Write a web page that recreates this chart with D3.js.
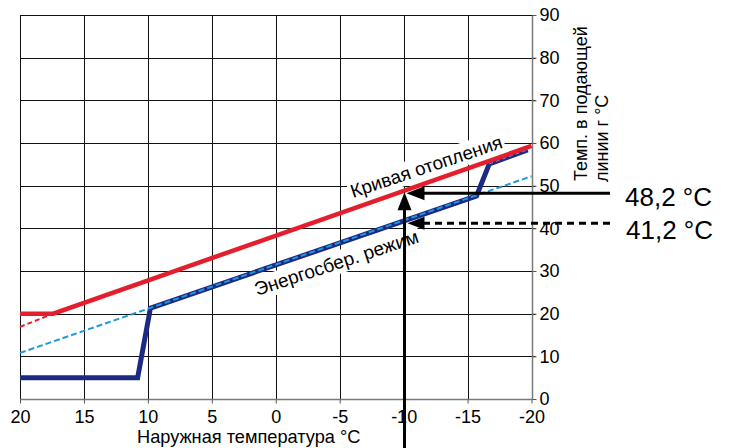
<!DOCTYPE html>
<html><head><meta charset="utf-8">
<script src="https://cdn.jsdelivr.net/npm/d3@7"></script>
<style>
body{margin:0;background:#fff;}
svg{display:block;font-family:"Liberation Sans",Arial,sans-serif;}
</style></head>
<body><svg id="c" width="729" height="448"></svg>
<script>
// ---- data ----
const xTicks = [20, 15, 10, 5, 0, -5, -10, -15, -20];
const yTicks = [0, 10, 20, 30, 40, 50, 60, 70, 80, 90];
const heatOut  = [20, 17.4, -20];
const heatFlow = [20, 20, 59.3];
const heatExtOut  = [20, 17.4];
const heatExtFlow = [16.9, 20];
const ecoOut  = [20, 10.8, 9.8, -15.7, -16.7, -19.7];
const ecoFlow = [5, 5, 21.3, 47.6, 55.1, 58.4];
const ecoRefOut  = [20, -20];
const ecoRefFlow = [10.8, 52.2];
const markOut = -10;
const markHeat = 48.2;
const markEco = 41.2;
const markHeatLabel = "48,2 °C";
const markEcoLabel = "41,2 °C";
const xTitle = "Наружная температура °C";
const yTitle = ["Темп. в подающей", "линии г °C"];
const heatLabel = "Кривая отопления";
const ecoLabel = "Энергосбер. режим";

const svg = d3.select("#c");
const x = d3.scaleLinear().domain([20, -20]).range([20, 531.5]);
const y = d3.scaleLinear().domain([0, 90]).range([399, 15]);
const cx = v => Math.round(x(v)) + 0.5;
const cy = v => Math.round(y(v)) + 0.5;

const RED = "#e31f2d", NAVY = "#1d2a84", LBLUE = "#1d98da";

// grid
const g = svg.append("g");
g.selectAll(".vg").data(xTicks.filter(d => d !== -20)).join("line")
  .attr("x1", d => cx(d)).attr("x2", d => cx(d))
  .attr("y1", cy(90)).attr("y2", cy(0))
  .attr("stroke", "#111").attr("stroke-width", 1);
g.selectAll(".hg").data(yTicks.filter(d => d !== 0)).join("line")
  .attr("x1", x(20)).attr("x2", cx(-20) + 3)
  .attr("y1", d => cy(d)).attr("y2", d => cy(d))
  .attr("stroke", "#111").attr("stroke-width", 1);

// axes (grey)
const axR = svg.append("g").attr("transform", `translate(${cx(-20)},0)`)
  .call(d3.axisRight(y).tickValues(yTicks).tickSize(4).tickPadding(4).tickFormat(d3.format("d")));
const axB = svg.append("g").attr("transform", `translate(0,${cy(0)})`)
  .call(d3.axisBottom(x).tickValues(xTicks).tickSize(4).tickPadding(3).tickFormat(d => String(d)));
[axR, axB].forEach(a => {
  a.select(".domain").attr("stroke", "#7a7a7a").attr("stroke-width", 1.5);
  a.selectAll(".tick line").attr("stroke", "#555");
  a.selectAll("text").attr("fill", "#000").style("font-size", "18px")
    .style("font-family", "'Liberation Sans',Arial,sans-serif");
});
axR.select(".domain").attr("d", `M0,${cy(0)}V${cy(90)}`);
axB.select(".domain").attr("d", `M${x(20)},0H${cx(-20)}`);
axR.selectAll("text").attr("x", 7);
axB.selectAll("text").attr("dy", "0.9em");

// titles
svg.append("text").attr("x", 137).attr("y", 443).attr("font-size", 18.2).text(xTitle);
svg.append("text").attr("transform", "translate(587,181) rotate(-90)").attr("font-size", 18).text(yTitle[0]);
svg.append("text").attr("transform", "translate(608,182) rotate(-90)").attr("font-size", 18).text(yTitle[1]);

// rotated labels with white box
function boxLabel(tx, ty, ang, txt, fs) {
  const gg = svg.append("g").attr("transform", `translate(${tx},${ty}) rotate(${ang})`);
  const r = gg.append("rect").attr("fill", "#fff");
  const t = gg.append("text").attr("font-size", fs).text(txt);
  const b = t.node().getBBox();
  r.attr("x", b.x - 2).attr("y", b.y - 1).attr("width", b.width + 4).attr("height", b.height + 2);
}
boxLabel(353, 198, -18.5, heatLabel, 18.8);
boxLabel(257, 296, -18.3, ecoLabel, 19);

// curves
const line = d3.line().x(d => x(d[0])).y(d => y(d[1]));
const zip = (a, b) => a.map((v, i) => [v, b[i]]);

svg.append("path").attr("d", line(zip(ecoOut, ecoFlow)))
  .attr("fill", "none").attr("stroke", NAVY).attr("stroke-width", 5).attr("stroke-linejoin", "miter");
svg.append("path").attr("d", line(zip(ecoOut.slice(4), ecoFlow.slice(4))))
  .attr("fill", "none").attr("stroke", "#7f8cd0").attr("stroke-width", 1).attr("stroke-dasharray", "4,3");
svg.append("path").attr("d", line(zip(ecoRefOut, ecoRefFlow)))
  .attr("fill", "none").attr("stroke", LBLUE).attr("stroke-width", 2).attr("stroke-dasharray", "6,3");
svg.append("path").attr("d", line(zip(heatExtOut, heatExtFlow)))
  .attr("fill", "none").attr("stroke", RED).attr("stroke-width", 2).attr("stroke-dasharray", "5,3");
svg.append("path").attr("d", line(zip(heatOut, heatFlow)))
  .attr("fill", "none").attr("stroke", RED).attr("stroke-width", 4.5);

// markers / arrows
const ax = Math.round(x(markOut)) + 0.5;
const yH = y(markHeat), yE = y(markEco);
const endX = 610;
svg.append("line").attr("x1", ax).attr("x2", ax).attr("y1", 448).attr("y2", yH + 12)
  .attr("stroke", "#000").attr("stroke-width", 3);
svg.append("path").attr("d", `M${ax},${yH - 1}L${ax - 7},${yH + 17}L${ax + 7},${yH + 17}Z`).attr("fill", "#000");
svg.append("line").attr("x1", endX).attr("x2", ax + 14).attr("y1", yH).attr("y2", yH)
  .attr("stroke", "#000").attr("stroke-width", 3);
svg.append("path").attr("d", `M${ax + 2},${yH}L${ax + 20},${yH - 7}L${ax + 20},${yH + 7}Z`).attr("fill", "#000");
svg.append("line").attr("x1", endX).attr("x2", ax + 16).attr("y1", yE).attr("y2", yE)
  .attr("stroke", "#000").attr("stroke-width", 3).attr("stroke-dasharray", "7,5");
svg.append("path").attr("d", `M${ax + 3},${yE}L${ax + 20},${yE - 6.5}L${ax + 20},${yE + 6.5}Z`).attr("fill", "#000");

svg.append("text").attr("x", 625).attr("y", 206).attr("font-size", 26).text(markHeatLabel);
svg.append("text").attr("x", 626).attr("y", 239).attr("font-size", 26).text(markEcoLabel);
</script></body></html>
